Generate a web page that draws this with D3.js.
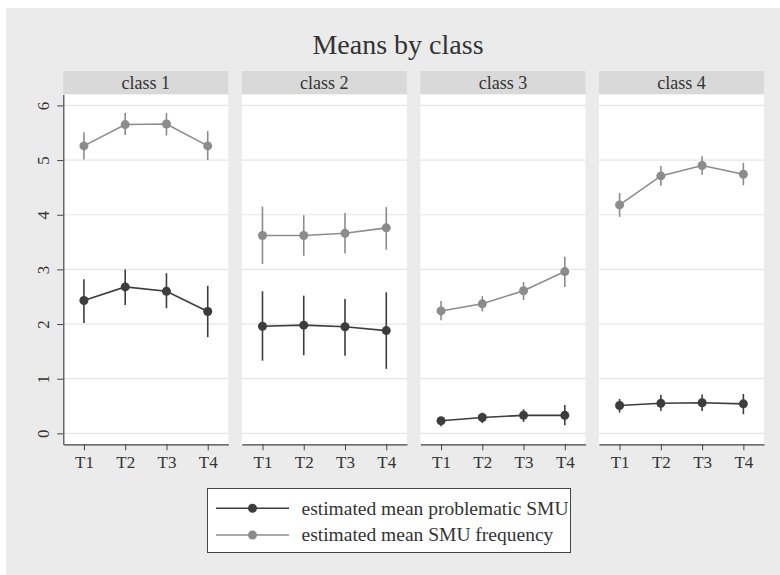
<!DOCTYPE html>
<html>
<head>
<meta charset="utf-8">
<script src="https://cdn.jsdelivr.net/npm/d3@7"></script>
<style>
  html, body { margin: 0; padding: 0; background: #ffffff; }
  svg { display: block; }
  text { font-family: "Liberation Serif", "DejaVu Serif", serif; fill: #333; }
</style>
</head>
<body>
<svg id="chart" width="780" height="575"></svg>
<script>
// Panels (latent classes) and measurement waves
const classes = ["class 1", "class 2", "class 3", "class 4"];
const waves = ["T1", "T2", "T3", "T4"];
const yTicks = [0, 1, 2, 3, 4, 5, 6];

// Estimated mean problematic SMU, with lower / upper interval bounds, per class
const problematicMean = [
  [2.43, 2.68, 2.60, 2.23],
  [1.96, 1.98, 1.95, 1.88],
  [0.23, 0.29, 0.33, 0.33],
  [0.51, 0.55, 0.56, 0.54]
];
const problematicLow = [
  [2.02, 2.35, 2.29, 1.76],
  [1.33, 1.43, 1.42, 1.18],
  [0.13, 0.19, 0.21, 0.15],
  [0.38, 0.41, 0.41, 0.35]
];
const problematicHigh = [
  [2.82, 3.00, 2.93, 2.70],
  [2.60, 2.52, 2.46, 2.58],
  [0.30, 0.38, 0.44, 0.52],
  [0.63, 0.70, 0.71, 0.72]
];

// Estimated mean SMU frequency, with lower / upper interval bounds, per class
const frequencyMean = [
  [5.26, 5.65, 5.66, 5.26],
  [3.62, 3.62, 3.66, 3.76],
  [2.24, 2.37, 2.61, 2.96],
  [4.18, 4.71, 4.90, 4.74]
];
const frequencyLow = [
  [5.01, 5.46, 5.45, 5.00],
  [3.10, 3.25, 3.29, 3.36],
  [2.07, 2.23, 2.44, 2.68],
  [3.96, 4.53, 4.73, 4.54]
];
const frequencyHigh = [
  [5.51, 5.86, 5.86, 5.53],
  [4.15, 3.99, 4.03, 4.14],
  [2.42, 2.51, 2.77, 3.23],
  [4.40, 4.89, 5.07, 4.95]
];

const seriesNames = ["estimated mean problematic SMU", "estimated mean SMU frequency"];
const seriesColors = ["#3d3d3d", "#8c8c8c"];

const series = [
  { name: seriesNames[0], color: seriesColors[0], mean: problematicMean, lo: problematicLow, hi: problematicHigh },
  { name: seriesNames[1], color: seriesColors[1], mean: frequencyMean, lo: frequencyLow, hi: frequencyHigh }
];

const svg = d3.select("#chart");
const W = 780, H = 575;

// Outer graph region
svg.append("rect").attr("x", 6).attr("y", 8).attr("width", W - 6).attr("height", H - 8)
  .attr("fill", "#ebebeb");

// Title
svg.append("text").attr("x", 398).attr("y", 54).attr("text-anchor", "middle")
  .style("font-size", "28px").attr("fill", "#333").text("Means by class");

// Layout of the facet grid
const gridLeft = 63.3, gridRight = 764, panelGap = 13.5;
const panelW = (gridRight - gridLeft - panelGap * (classes.length - 1)) / classes.length;
const headerTop = 71, headerBottom = 94.5, plotBottom = 444.3;

const panelX = d3.scaleBand().domain(classes).range([gridLeft, gridRight]).paddingInner(panelGap / (panelW + panelGap)).paddingOuter(0);
const x = d3.scaleLinear().domain([0.5, 4.5]).range([0, panelX.bandwidth()]);
const y = d3.scaleLinear().domain([-0.2, 6.2]).range([plotBottom, headerBottom]);

classes.forEach((cls, ci) => {
  const g = svg.append("g").attr("transform", `translate(${panelX(cls)},0)`);
  const pw = panelX.bandwidth();

  // Strip header
  g.append("rect").attr("x", 0).attr("y", headerTop).attr("width", pw).attr("height", headerBottom - headerTop)
    .attr("fill", "#d9d9d9");
  g.append("text").attr("x", pw / 2).attr("y", 89).attr("text-anchor", "middle")
    .style("font-size", "18px").text(cls);

  // Plot area
  g.append("rect").attr("x", 0).attr("y", headerBottom).attr("width", pw).attr("height", plotBottom - headerBottom)
    .attr("fill", "#ffffff");

  // Horizontal grid lines
  g.selectAll("line.grid").data(yTicks).join("line").attr("class", "grid")
    .attr("x1", 0).attr("x2", pw).attr("y1", d => y(d)).attr("y2", d => y(d))
    .attr("stroke", "#e6e6e6").attr("stroke-width", 1.2);

  // x axis
  const xAxis = d3.axisBottom(x).tickValues([1, 2, 3, 4]).tickFormat(d => waves[d - 1])
    .tickSize(6).tickSizeOuter(0).tickPadding(6);
  const xa = g.append("g").attr("transform", `translate(0,${plotBottom})`).call(xAxis);
  xa.select(".domain").attr("stroke", "#444").attr("stroke-width", 1.2);
  xa.selectAll(".tick line").attr("stroke", "#444");
  xa.selectAll(".tick text").style("font-size", "17px").style("font-family", "Liberation Serif, serif").attr("fill", "#333");

  // y axis on the first panel only
  if (ci === 0) {
    const yAxis = d3.axisLeft(y).tickValues(yTicks).tickFormat(d3.format("d"))
      .tickSize(6).tickSizeOuter(0).tickPadding(4);
    const ya = g.append("g").call(yAxis);
    ya.select(".domain").attr("stroke", "#444").attr("stroke-width", 1.2);
    ya.selectAll(".tick line").attr("stroke", "#444");
    ya.selectAll(".tick text")
      .style("font-size", "17px").style("font-family", "Liberation Serif, serif").attr("fill", "#333")
      .attr("text-anchor", "middle").attr("x", null)
      .attr("transform", "translate(-20,0) rotate(-90)").attr("y", 0).attr("dy", "0.35em");
  }

  // Series: interval bars, connecting line, markers
  series.forEach(s => {
    const pts = waves.map((w, i) => ({ i: i + 1, m: s.mean[ci][i], lo: s.lo[ci][i], hi: s.hi[ci][i] }));
    g.selectAll(null).data(pts).join("line")
      .attr("x1", d => x(d.i)).attr("x2", d => x(d.i))
      .attr("y1", d => y(d.lo)).attr("y2", d => y(d.hi))
      .attr("stroke", s.color).attr("stroke-width", 1.6);
    g.append("path").datum(pts)
      .attr("d", d3.line().x(d => x(d.i)).y(d => y(d.m)))
      .attr("fill", "none").attr("stroke", s.color).attr("stroke-width", 1.6);
    g.selectAll(null).data(pts).join("circle")
      .attr("cx", d => x(d.i)).attr("cy", d => y(d.m)).attr("r", 4.5)
      .attr("fill", s.color);
  });
});

// Legend
const lg = svg.append("g");
lg.append("rect").attr("x", 207.5).attr("y", 488.5).attr("width", 363).attr("height", 64)
  .attr("fill", "#ffffff").attr("stroke", "#444").attr("stroke-width", 1);
const legendY = d3.scalePoint().domain(seriesNames).range([508.3, 535]);
series.forEach(s => {
  const ly = legendY(s.name);
  lg.append("line").attr("x1", 216).attr("x2", 289).attr("y1", ly).attr("y2", ly)
    .attr("stroke", s.color).attr("stroke-width", 1.6);
  lg.append("circle").attr("cx", 252.5).attr("cy", ly).attr("r", 4.5).attr("fill", s.color);
  lg.append("text").attr("x", 301.5).attr("y", ly).attr("dy", "0.33em")
    .style("font-size", "19.5px").text(s.name);
});
</script>
</body>
</html>
